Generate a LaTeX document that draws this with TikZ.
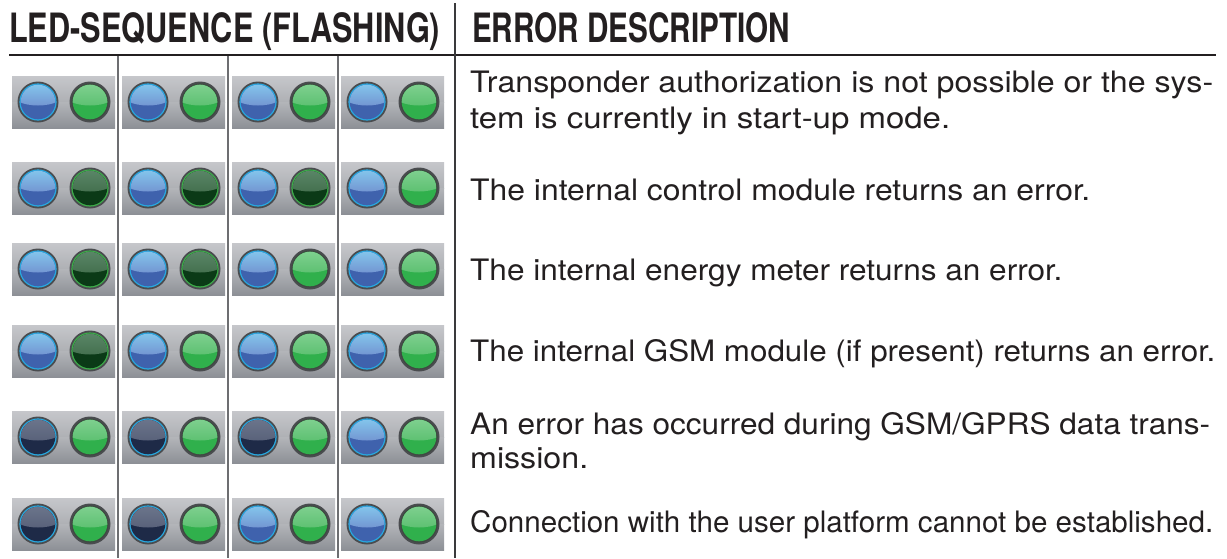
\documentclass[tikz,border=0pt]{standalone}
\usepackage{fontspec}
\setmainfont{TeX Gyre Heros}
\usepackage{graphicx}
\definecolor{ink}{HTML}{231F20}
\definecolor{sepdark}{HTML}{3A3A3C}
\definecolor{sepgray}{HTML}{6D6E71}
\definecolor{ptop}{HTML}{C6C7CB}
\definecolor{pmidA}{HTML}{AEB0B4}
\definecolor{pmidB}{HTML}{B3B5B9}
\definecolor{pbot}{HTML}{8D9096}
\definecolor{ledout}{HTML}{4A4C4F}
% blue on
\definecolor{BOring}{HTML}{27A9E1}
\definecolor{BOtop}{HTML}{86CDF0}
\definecolor{BOmid}{HTML}{7396D2}
\definecolor{BOlow}{HTML}{3F62AD}
% blue off
\definecolor{BFring}{HTML}{27A9E1}
\definecolor{BFtop}{HTML}{6E788E}
\definecolor{BFmid}{HTML}{59627A}
\definecolor{BFlow}{HTML}{1E2A47}
% green on
\definecolor{GOring}{HTML}{3F4A42}
\definecolor{GOtop}{HTML}{84D294}
\definecolor{GOmid}{HTML}{5EC172}
\definecolor{GOlow}{HTML}{30B04C}
% green off
\definecolor{GFring}{HTML}{3DAE4A}
\definecolor{GFtop}{HTML}{5E8A6B}
\definecolor{GFmid}{HTML}{44704F}
\definecolor{GFlow}{HTML}{0B3A17}
\tikzset{
  desc/.style={anchor=base west, inner sep=0pt, text=ink,
    font=\fontsize{29.5}{36}\selectfont},
  headtxt/.style={anchor=base west, inner sep=0pt, text=ink},
  mainsep/.style={draw=sepdark, line width=1.5pt},
  groupsep/.style={draw=sepgray, line width=1.5pt},
  headline/.style={draw=ink, line width=2.2pt}
}
\newcommand\fitline[2]{\resizebox{#1pt}{\height}{#2}}
\newcommand\drawled[3]{%
  \fill[ledout] (#1,#2) circle[radius=20.5];
  \fill[#3ring] (#1,#2) circle[radius=18.6];
  \begin{scope}
    \clip (#1,#2) circle[radius=17.3];
    \fill[#3low] (#1-20,#2-20) rectangle (#1+20,#2+20);
    \shade[top color=#3top, bottom color=#3mid] (#1,#2-9) ellipse[x radius=27, y radius=12.5];
  \end{scope}}
\newcommand\panelcell[4]{%
  \shade[top color=ptop, bottom color=pmidA] (#1,#2) rectangle ++(103,26);
  \shade[top color=pmidB, bottom color=pbot] (#1,#2+26) rectangle ++(103,26);
  \drawled{#1+26}{#2+26}{#3}%
  \drawled{#1+78}{#2+26}{#4}}
\newcommand\ledrow[9]{%
  \panelcell{12}{#1}{#2}{#3}%
  \panelcell{122}{#1}{#4}{#5}%
  \panelcell{232}{#1}{#6}{#7}%
  \panelcell{341}{#1}{#8}{#9}}
\begin{document}
\begin{tikzpicture}[x=1pt,y=-1pt]
\useasboundingbox (0,0) rectangle (1227,558);
\fill[white] (0,0) rectangle (1227,558);

% header texts
\node[headtxt] (h1) at (9,42) {\resizebox{431pt}{\height}{\fontsize{40.4}{40}\selectfont\bfseries LED-SEQUENCE (FLASHING)}};
\node[headtxt] (h2) at (472,42) {\resizebox{318pt}{\height}{\fontsize{40.4}{40}\selectfont\bfseries ERROR DESCRIPTION}};

% rules
\coordinate (hl0) at (9,55);
\coordinate (hl1) at (1216,55);
\draw[headline] (hl0) -- (hl1);
\coordinate (ms0) at (455,3);
\coordinate (ms1) at (455,558);
\draw[mainsep] (ms0) -- (ms1);
\foreach \gx in {118,228,338}{
  \draw[groupsep] (\gx,56) -- (\gx,558);
}

% LED rows
\ledrow{76}{BO}{GO}{BO}{GO}{BO}{GO}{BO}{GO}
\ledrow{162}{BO}{GF}{BO}{GF}{BO}{GF}{BO}{GO}
\ledrow{243}{BO}{GF}{BO}{GF}{BO}{GO}{BO}{GO}
\ledrow{325}{BO}{GF}{BO}{GO}{BO}{GO}{BO}{GO}
\ledrow{411}{BF}{GO}{BF}{GO}{BF}{GO}{BO}{GO}
\ledrow{498}{BF}{GO}{BF}{GO}{BO}{GO}{BO}{GO}

% descriptions
\node[desc] (t1a) at (470,92) {\fitline{743}{Transponder authorization is not possible or the sys-}};
\node[desc] (t1b) at (470,128) {\fitline{480}{tem is currently in start-up mode.}};
\node[desc] (t2) at (470,200) {\fitline{620}{The internal control module returns an error.}};
\node[desc] (t3) at (470,280) {\fitline{592}{The internal energy meter returns an error.}};
\node[desc] (t4) at (470,361) {\fitline{745}{The internal GSM module (if present) returns an error.}};
\node[desc] (t5a) at (470,434) {\fitline{740}{An error has occurred during GSM/GPRS data trans-}};
\node[desc] (t5b) at (470,468) {\fitline{118}{mission.}};
\node[desc] (t6) at (470,532) {\fitline{743}{Connection with the user platform cannot be established.}};
\end{tikzpicture}
\end{document}
